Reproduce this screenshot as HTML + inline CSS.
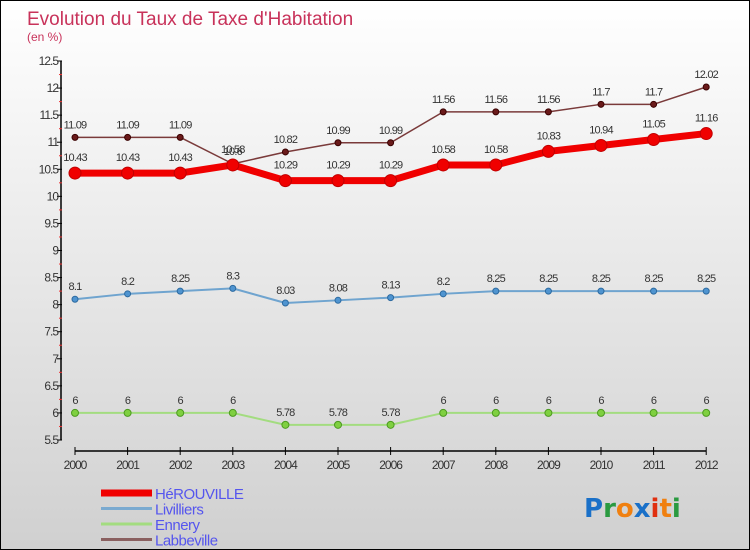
<!DOCTYPE html>
<html><head><meta charset="utf-8">
<style>
html,body{margin:0;padding:0}
body{width:750px;height:550px;overflow:hidden;font-family:"Liberation Sans",sans-serif}
#wrap{position:relative;width:748px;height:548px;border:1px solid #000;background:linear-gradient(#ffffff,#d0d0d0)}
svg{position:absolute;left:0;top:0}
</style></head>
<body>
<div id="wrap">
<svg id="c" width="748" height="548"></svg>
</div>
<script>
const years=["2000","2001","2002","2003","2004","2005","2006","2007","2008","2009","2010","2011","2012"];
const yTicks=[5.5,6,6.5,7,7.5,8,8.5,9,9.5,10,10.5,11,11.5,12,12.5];
const herouville=[10.43,10.43,10.43,10.58,10.29,10.29,10.29,10.58,10.58,10.83,10.94,11.05,11.16];
const livilliers=[8.1,8.2,8.25,8.3,8.03,8.08,8.13,8.2,8.25,8.25,8.25,8.25,8.25];
const ennery=[6,6,6,6,5.78,5.78,5.78,6,6,6,6,6,6];
const labbeville=[11.09,11.09,11.09,10.6,10.82,10.99,10.99,11.56,11.56,11.56,11.7,11.7,12.02];
const NS="http://www.w3.org/2000/svg";
const svg=document.getElementById('c');
function X(i){return 74+i*52.6;}
function Y(v){return 439-(v-5.5)*(379/7);}
function mk(t,a,p){const e=document.createElementNS(NS,t);for(const k in a)e.setAttribute(k,a[k]);(p||svg).appendChild(e);return e;}
let t=mk('text',{x:26,y:24,fill:'#c8325a','font-size':19});t.textContent="Evolution du Taux de Taxe d'Habitation";


t=mk('text',{x:26,y:40,fill:'#c8325a','font-size':12});t.textContent="(en %)";


// axes
let ax=mk('line',{x1:60,y1:Y(12.5),x2:60,y2:Y(5.5),stroke:'#000','stroke-width':1.5});


yTicks.forEach((v,i)=>{
  mk('line',{x1:56,y1:Y(v),x2:61,y2:Y(v),stroke:'#000'});
  if(i<yTicks.length-1)mk('line',{x1:58,y1:Y(v+0.25),x2:61,y2:Y(v+0.25),stroke:'#e33'});
  const l=mk('text',{x:57,y:Y(v)+4,'text-anchor':'end','font-size':12,fill:'#333','letter-spacing':'-1'});
  l.textContent=String(v);
  
  
});
let xa=mk('line',{x1:74,y1:450,x2:X(12),y2:450,stroke:'#000','stroke-width':1.5});


years.forEach((y,i)=>{
  mk('line',{x1:X(i),y1:446,x2:X(i),y2:454,stroke:'#000'});
  const l=mk('text',{x:X(i),y:468,'text-anchor':'middle','font-size':12,fill:'#333','letter-spacing':'-1'});
  l.textContent=y;
  
  
});
function series(name,data,color,w,r,dot,dotStroke,labelDy){
  const g=mk('g',{});
  
  
  mk('polyline',{points:data.map((v,i)=>X(i)+','+Y(v)).join(' '),fill:'none',stroke:color,'stroke-width':w,'stroke-linejoin':'round'},g);
  data.forEach((v,i)=>{
    const c=mk('circle',{cx:X(i),cy:Y(v),r:r,fill:dot,stroke:dotStroke,'stroke-width':1},g);
    
    
    const l=mk('text',{x:X(i),y:Y(v)+labelDy,'text-anchor':'middle','font-size':11,fill:'#333','letter-spacing':'-0.8'},g);
    l.textContent=String(v);
    
    
  });
}
series('livilliers',livilliers,'#6fa4cf',2,3,'#4f94d0','#2c6aa0',-9);
series('ennery',ennery,'#a3dc80',2,3.5,'#7fd040','#4c9a20',-9);
series('labbeville',labbeville,'#7a3a3a',1.5,3,'#6a1a1a','#3a0000',-9);
series('herouville',herouville,'#f00000',7,6,'#f00000','#c00000',-12);
// legend
const leg=[["HéROUVILLE","#f00000",7],["Livilliers","#7aaad0",3],["Ennery","#a3dc80",3],["Labbeville","#8a6060",3]];
leg.forEach((e,i)=>{
  const y=492+i*15.5;
  const g=mk('g',{});
  
  
  mk('line',{x1:100,y1:y,x2:151,y2:y,stroke:e[1],'stroke-width':e[2]},g);
  const l=mk('text',{x:154,y:y+6,'font-size':15,fill:'#5555ee','letter-spacing':'-0.5'},g);
  l.textContent=e[0];
});
// logo
const lg=mk('text',{x:583,y:516,'font-size':26,'font-family':'DejaVu Sans, sans-serif','font-weight':'bold'});


[["P","#1a70c8"],["r","#2a9a40"],["o","#f08010"],["x","#1a70c8"],["i","#e03010"],["t","#f08010"],["i","#2a9a40"]].forEach(p=>{
  const s=mk('tspan',{fill:p[1]},lg);s.textContent=p[0];
});
</script>
</body></html>
